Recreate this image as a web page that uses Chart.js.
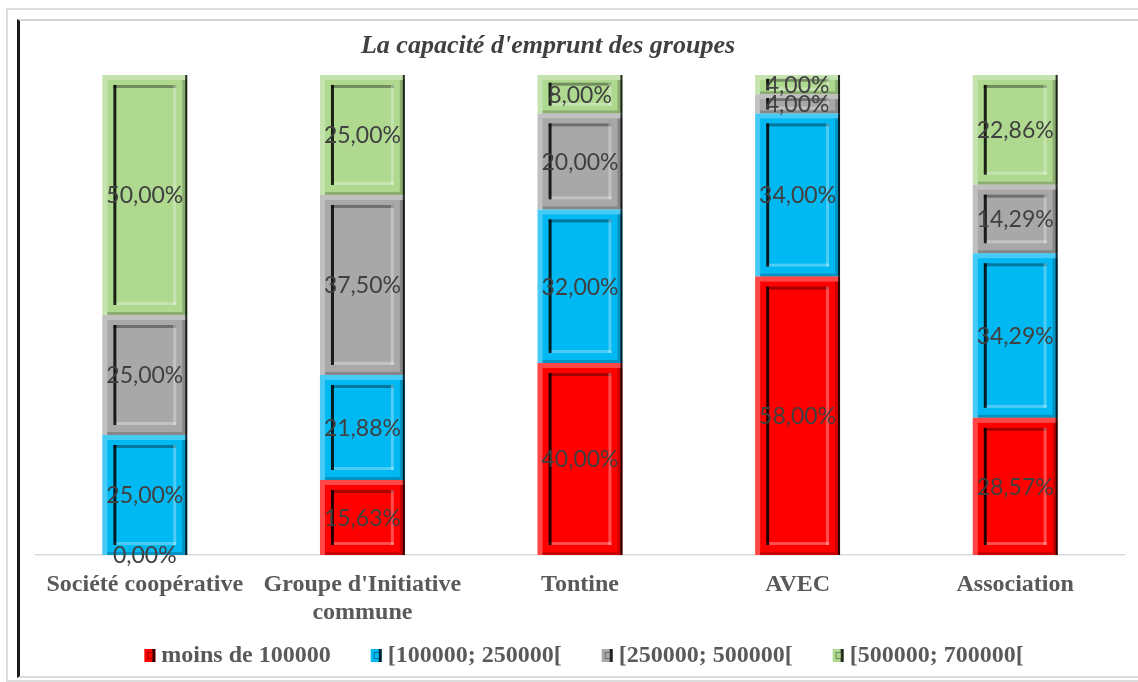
<!DOCTYPE html>
<html>
<head>
<meta charset="utf-8">
<script src="https://cdn.jsdelivr.net/npm/chart.js@4.4.0/dist/chart.umd.min.js"></script>
<style>
  html, body { margin: 0; padding: 0; background: #fff; overflow: hidden; }
  #frameOuter { position: absolute; left: 6px; top: 8px; width: 1140px; height: 670px; border: 2px solid #dcdcdc; border-right: none; }
  #frameInner { position: absolute; left: 17px; top: 19px; width: 1130px; height: 655px; border-top: 2px solid #d4d4d4; border-left: 3px solid #1a1a1a; border-bottom: 2px solid #d9d9d9; }
  #wrap { position: absolute; left: 0; top: 0; width: 1138px; height: 682px; }
</style>
</head>
<body>
<div id="frameOuter"></div>
<div id="frameInner"></div>
<div id="wrap"><canvas id="chart" width="1138" height="682"></canvas></div>
<script>
// données
const categories = ['Société coopérative', ["Groupe d'Initiative", 'commune'], 'Tontine', 'AVEC', 'Association'];
const seriesLabels = ['moins de 100000', '[100000; 250000[', '[250000; 500000[', '[500000; 700000['];
const lessThan100k = [0, 15.63, 40, 58, 28.57];
const from100kTo250k = [25, 21.88, 32, 34, 34.29];
const from250kTo500k = [25, 37.5, 20, 4, 14.29];
const from500kTo700k = [50, 25, 8, 4, 22.86];
const seriesColors = ['#ff0000', '#00b8f2', '#a8a8a8', '#aed98f'];

const chartTitle = "La capacité d'emprunt des groupes";

function fmt(v) {
    return v.toFixed(2).replace('.', ',') + '%';
}

// effet biseau sur chaque segment
function bevel(ctx, l, t, r, b) {
    const w = r - l, h = b - t;
    if (h < 1) return;
    const e = Math.min(5, h / 4);
    // bord extérieur clair en haut / à gauche
    ctx.fillStyle = 'rgba(255,255,255,0.28)';
    ctx.fillRect(l, t, w, e);
    ctx.fillRect(l, t + e, e, h - e);
    // ombre à droite / en bas
    ctx.fillStyle = 'rgba(0,0,0,0.2)';
    ctx.fillRect(r - e, t + e, e, h - e);
    ctx.fillRect(l + e, b - e * 0.6, w - 2 * e, e * 0.6);
    ctx.fillStyle = 'rgba(0,0,0,0.8)';
    ctx.fillRect(r - 2, t, 2, h);

    const ix = 11, iy = Math.min(10, h * 0.2);
    const il = l + ix, ir = r - ix, it = t + iy, ib = b - iy;
    if (ib - it < 3) return;
    const ie = Math.min(3, (ib - it) / 4);
    ctx.fillStyle = 'rgba(0,0,0,0.35)';
    ctx.fillRect(il, it, ir - il, ie);
    ctx.fillStyle = 'rgba(255,255,255,0.3)';
    ctx.fillRect(ir - ie, it, ie, ib - it);
    ctx.fillRect(il, ib - ie, ir - il, ie);
    ctx.fillStyle = 'rgba(0,0,0,0.85)';
    ctx.fillRect(il, it, ie, ib - it);
}

const barDecor = {
    id: 'barDecor',
    afterDatasetsDraw(chart) {
        const ctx = chart.ctx;
        ctx.save();
        chart.data.datasets.forEach((ds, i) => {
            chart.getDatasetMeta(i).data.forEach(bar => {
                const p = bar.getProps(['x', 'y', 'base', 'width'], true);
                const l = p.x - p.width / 2, r = p.x + p.width / 2;
                bevel(ctx, l, Math.min(p.y, p.base), r, Math.max(p.y, p.base));
            });
        });
        // étiquettes de valeurs
        ctx.font = '23px Lato, "Liberation Sans", sans-serif';
        ctx.fillStyle = '#404040';
        ctx.textAlign = 'center';
        ctx.textBaseline = 'middle';
        chart.data.datasets.forEach((ds, i) => {
            chart.getDatasetMeta(i).data.forEach((bar, j) => {
                const p = bar.getProps(['x', 'y', 'base'], true);
                ctx.fillText(fmt(ds.data[j]), p.x, (p.y + p.base) / 2 + 1);
            });
        });
        ctx.restore();
    },
    afterDraw(chart) {
        const ctx = chart.ctx;
        ctx.save();
        // titre
        ctx.font = 'italic bold 26px "Liberation Serif", "Times New Roman", serif';
        ctx.fillStyle = '#404040';
        ctx.textAlign = 'center';
        ctx.textBaseline = 'middle';
        ctx.fillText(chartTitle, 548, 46);

        // légende
        ctx.font = 'bold 24px "Liberation Serif", "Times New Roman", serif';
        ctx.textAlign = 'left';
        const box = 11, gapBox = 6, gapItem = 40;
        const widths = seriesLabels.map(s => ctx.measureText(s).width);
        let total = 0;
        widths.forEach((w, i) => { total += box + gapBox + w + (i < widths.length - 1 ? gapItem : 0); });
        let x = 584 - total / 2;
        const yc = 655;
        seriesLabels.forEach((s, i) => {
            ctx.fillStyle = seriesColors[i];
            ctx.fillRect(x, yc - 6, box, 13);
            ctx.fillStyle = 'rgba(0,0,0,0.8)';
            ctx.fillRect(x + box - 3, yc - 6, 3, 13);
            ctx.fillStyle = 'rgba(0,0,0,0.35)';
            ctx.fillRect(x + 3, yc - 3, box - 6, 7);
            ctx.fillStyle = seriesColors[i];
            ctx.fillRect(x + 4, yc - 2, box - 7, 5);
            ctx.fillStyle = '#595959';
            ctx.fillText(s, x + box + gapBox, yc + 1);
            x += box + gapBox + widths[i] + gapItem;
        });
        ctx.restore();
    }
};

new Chart(document.getElementById('chart'), {
    type: 'bar',
    data: {
        labels: categories,
        datasets: [
            { label: seriesLabels[0], data: lessThan100k, backgroundColor: seriesColors[0] },
            { label: seriesLabels[1], data: from100kTo250k, backgroundColor: seriesColors[1] },
            { label: seriesLabels[2], data: from250kTo500k, backgroundColor: seriesColors[2] },
            { label: seriesLabels[3], data: from500kTo700k, backgroundColor: seriesColors[3] }
        ]
    },
    options: {
        responsive: false,
        animation: false,
        layout: { padding: { top: 75, left: 36, right: 14, bottom: 0 } },
        datasets: { bar: { categoryPercentage: 1, barPercentage: 0.39, borderWidth: 0 } },
        plugins: {
            legend: { display: false },
            title: { display: false },
            tooltip: { enabled: false }
        },
        scales: {
            x: {
                stacked: true,
                grid: { display: false, drawTicks: false },
                border: { display: true, color: '#d9d9d9', width: 1.5 },
                ticks: {
                    color: '#595959',
                    padding: 15,
                    maxRotation: 0,
                    autoSkip: false,
                    font: { family: '"Liberation Serif", "Times New Roman", serif', size: 24, weight: 'bold', lineHeight: 1.2 }
                },
                afterFit(scale) { scale.height = 127; }
            },
            y: {
                stacked: true,
                display: false,
                min: 0,
                max: 100
            }
        }
    },
    plugins: [barDecor]
});
</script>
</body>
</html>
